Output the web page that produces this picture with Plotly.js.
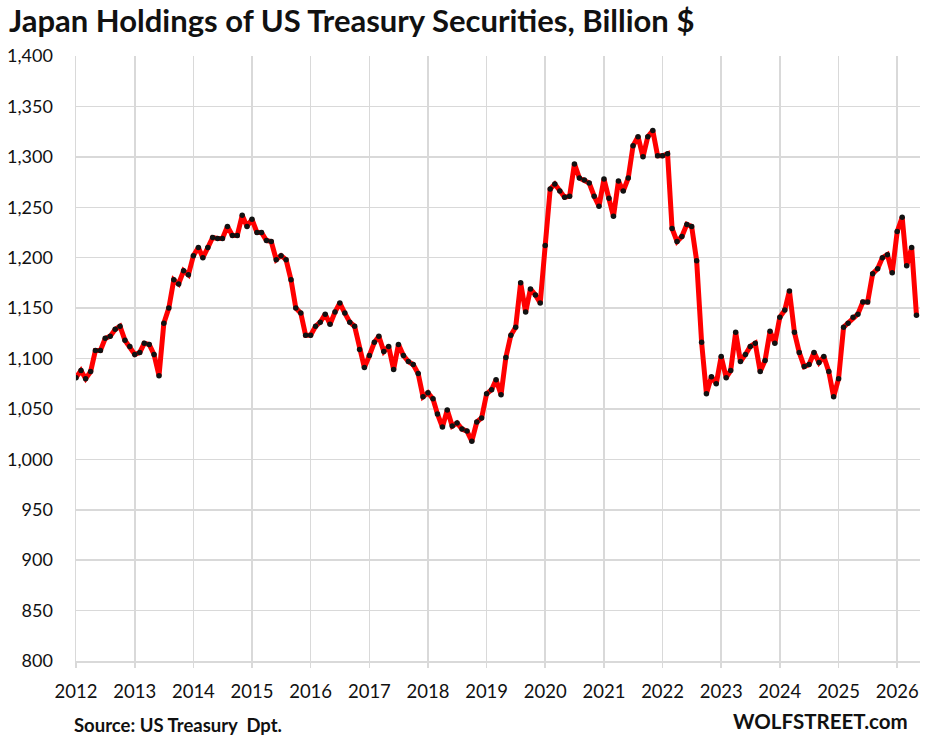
<!DOCTYPE html>
<html>
<head>
<meta charset="utf-8">
<script src="https://cdn.plot.ly/plotly-3.0.1.min.js"></script>
<style>
  html, body { margin: 0; padding: 0; background: #fff; }
  #chart { width: 930px; height: 738px; }
</style>
</head>
<body>
<div id="chart"></div>
<script>
// Monthly series, Jan 2012 .. May 2026 (billion $)
const startYear = 2012;
const startMonth = 1;
const values = [
  // 2012
  1081, 1088, 1080, 1087, 1108, 1108, 1120, 1122, 1129, 1132, 1118, 1112,
  // 2013
  1104, 1106, 1115, 1114, 1104, 1083, 1135, 1150, 1178, 1174, 1187, 1183,
  // 2014
  1202, 1210, 1200, 1210, 1220, 1219, 1219, 1231, 1222, 1222, 1242, 1231,
  // 2015
  1238, 1225, 1225, 1217, 1216, 1198, 1202, 1198, 1178, 1150, 1145, 1123,
  // 2016
  1123, 1132, 1136, 1144, 1134, 1146, 1155, 1145, 1136, 1132, 1109, 1091,
  // 2017
  1103, 1116, 1122, 1107, 1112, 1089, 1114, 1103, 1097, 1094, 1085, 1062,
  // 2018
  1066, 1060, 1045, 1032, 1049, 1033, 1036, 1030, 1028, 1018, 1037, 1041,
  // 2019
  1065, 1069, 1079, 1064, 1101, 1123, 1131, 1175, 1146, 1169, 1163, 1155,
  // 2020
  1212, 1268, 1273, 1266, 1260, 1261, 1293, 1279, 1277, 1274, 1261, 1251,
  // 2021
  1278, 1259, 1241, 1276, 1266, 1279, 1311, 1320, 1300, 1320, 1326, 1301,
  // 2022
  1301, 1303, 1229, 1216, 1221, 1233, 1231, 1197, 1116, 1065, 1082, 1075,
  // 2023
  1102, 1081, 1088, 1126, 1097, 1104, 1112, 1115, 1087, 1098, 1127, 1115,
  // 2024
  1141, 1148, 1167, 1126, 1106, 1092, 1094, 1106, 1096, 1102, 1087, 1062,
  // 2025
  1080, 1131, 1135, 1141, 1144, 1156, 1156, 1184, 1189, 1200, 1203, 1185,
  // 2026
  1226, 1240, 1192, 1210, 1143
];
const yTickVals = [800, 850, 900, 950, 1000, 1050, 1100, 1150, 1200, 1250, 1300, 1350, 1400];
const yTickText = ["800", "850", "900", "950", "1,000", "1,050", "1,100", "1,150", "1,200", "1,250", "1,300", "1,350", "1,400"];
const xTickYears = [2012, 2013, 2014, 2015, 2016, 2017, 2018, 2019, 2020, 2021, 2022, 2023, 2024, 2025, 2026];

const titleText = "Japan Holdings of US Treasury Securities, Billion $";
const sourceText = "Source: US Treasury&nbsp; Dpt.";
const brandText = "WOLFSTREET.com";

function pad(n) { return n < 10 ? "0" + n : "" + n; }
const dates = values.map((v, i) => {
  const m = startMonth - 1 + i;
  const y = startYear + Math.floor(m / 12);
  return y + "-" + pad((m % 12) + 1) + "-01";
});

const FONT = "Lato, 'Open Sans', sans-serif";
const GRID = "#d9d9d9";

const trace = {
  x: dates,
  y: values,
  type: "scatter",
  mode: "lines+markers",
  line: { color: "#ff0000", width: 5 },
  marker: { color: "#111111", size: 5.5, symbol: "circle" },
  hoverinfo: "x+y"
};

const layout = {
  width: 930,
  height: 738,
  paper_bgcolor: "#ffffff",
  plot_bgcolor: "#ffffff",
  margin: { l: 76, r: 10, t: 56, b: 77, pad: 0 },
  showlegend: false,
  title: {
    text: "<b>" + titleText + "</b>",
    font: { family: FONT, size: 31, color: "#111111" },
    x: 9 / 930, xanchor: "left", xref: "container",
    y: 1 - 21 / 738, yanchor: "middle", yref: "container"
  },
  xaxis: {
    type: "date",
    range: ["2012-01-01", "2026-05-23"],
    tickvals: xTickYears.map(y => y + "-01-01"),
    ticktext: xTickYears.map(String),
    showgrid: true,
    gridcolor: GRID,
    gridwidth: 1.5,
    showline: true,
    linecolor: GRID,
    linewidth: 1.5,
    ticks: "outside",
    ticklen: 5,
    tickcolor: GRID,
    tickwidth: 1.5,
    ticklabelstandoff: 8,
    tickfont: { family: FONT, size: 18.5, color: "#111111" },
    zeroline: false,
    fixedrange: true
  },
  yaxis: {
    range: [800, 1400],
    tickvals: yTickVals,
    ticktext: yTickText,
    showgrid: true,
    gridcolor: GRID,
    gridwidth: 1.5,
    showline: true,
    linecolor: GRID,
    linewidth: 1.5,
    ticks: "",
    ticklabelstandoff: 18,
    tickfont: { family: FONT, size: 18, color: "#111111" },
    zeroline: false,
    fixedrange: true
  },
  annotations: [
    {
      text: "<b>" + sourceText + "</b>",
      xref: "paper", yref: "paper",
      x: 0, xshift: -4, xanchor: "left",
      y: 0, yshift: -64, yanchor: "middle",
      showarrow: false,
      font: { family: FONT, size: 18.5, color: "#111111" }
    },
    {
      text: "<b>" + brandText + "</b>",
      xref: "paper", yref: "paper",
      x: 1, xshift: -10, xanchor: "right",
      y: 0, yshift: -60, yanchor: "middle",
      showarrow: false,
      font: { family: FONT, size: 20.5, color: "#111111" }
    }
  ]
};

Plotly.newPlot("chart", [trace], layout, { displayModeBar: false, staticPlot: true });
</script>
</body>
</html>
